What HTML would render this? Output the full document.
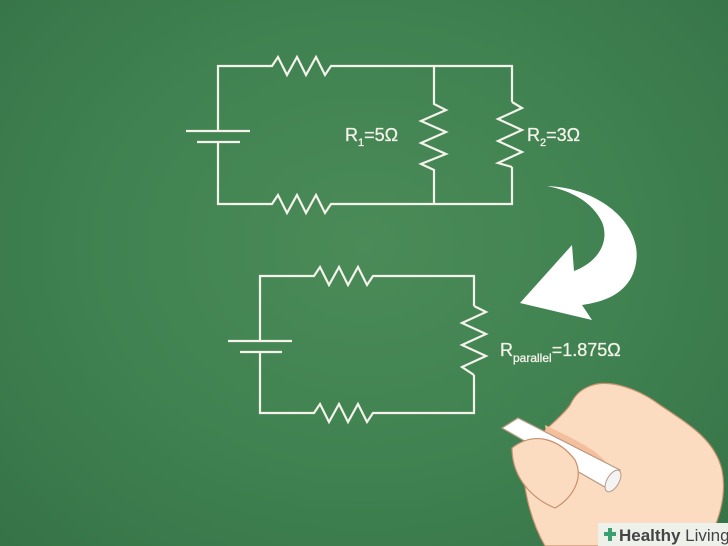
<!DOCTYPE html>
<html><head><style>
html,body{margin:0;padding:0}
body{width:728px;height:546px;overflow:hidden;background:radial-gradient(ellipse at 50% 45%,#4a8b58 0%,#3f8150 55%,#367347 100%);font-family:"Liberation Sans",sans-serif;position:relative}
svg{position:absolute;left:0;top:0}
</style></head><body>
<svg width="728" height="546" viewBox="0 0 728 546">
<g fill="none" stroke="#f4f2ea" stroke-width="2.2" stroke-linejoin="miter">
<polyline points="218,131 218,66 272,66 278,57 287,75 297,57 306,75 316,57 325,75 331,66 512,66 512,102"/>
<polyline points="218,142 218,204 272,204 278,195 287,213 297,195 306,213 316,195 325,213 331,204 512,204 512,167"/>
<polyline points="512,102 522,108 498,119 522,130 498,141 522,152 498,163 512,167"/>
<polyline points="434,66 434,104 446,110 421,121 446,132 421,143 446,154 421,164 434,170 434,204"/>
<line x1="186" y1="131" x2="250" y2="131"/>
<line x1="197" y1="142" x2="240" y2="142"/>
<polyline points="260,341 260,276 314,276 320,267 329,285 339,267 348,285 358,267 367,285 373,276 474,276 474,306"/>
<polyline points="260,352 260,413 314,413 320,404 329,422 339,404 348,422 358,404 367,422 373,413 474,413 474,375"/>
<polyline points="474,306 486,312 462,323 486,334 462,345 486,356 462,367 474,375"/>
<line x1="228" y1="341" x2="292" y2="341"/>
<line x1="240" y1="352" x2="282" y2="352"/>
</g>
<path d="M547,186 C605,188 652,232 632,276 C622,296 602,302 582,305 L592,320 L520,303 L572,245 L574,271 C598,262 610,242 602,222 C592,202 572,191 547,186 Z" fill="#fff"/>
<g fill="#f4f2ea" font-size="18" stroke="#f4f2ea" stroke-width="0.3">
<text x="345" y="141">R<tspan font-size="11" dy="5">1</tspan><tspan dy="-5">=5Ω</tspan></text>
<text x="527" y="141">R<tspan font-size="11" dy="5">2</tspan><tspan dy="-5">=3Ω</tspan></text>
<text x="500" y="356">R<tspan font-size="12" dy="6">parallel</tspan><tspan dy="-6">=1.875Ω</tspan></text>
</g>
<path d="M590,386 C610,378 640,390 660,405 C690,425 715,440 722,470 C728,500 715,530 705,546 L545,546 C530,520 520,480 525,455 C540,430 560,420 570,405 C575,395 580,390 590,386 Z" fill="#fbdcc0" stroke="#c9906c" stroke-width="1.2"/>
<path d="M545,425 C575,440 600,450 612,470 C600,475 570,470 550,460 Z" fill="#f3bf9c"/>
<path d="M502,428 L518,418 L620,470 L610,490 Z" fill="#fff" stroke="#b89a84" stroke-width="1.2"/>
<ellipse cx="613" cy="481" rx="6" ry="12" transform="rotate(30 613 481)" fill="#f3f3f3" stroke="#b89a84"/>
<path d="M512,448 C535,430 560,440 575,460 C585,480 570,500 555,508 C535,500 512,480 512,448 Z" fill="#fbdcc0" stroke="#c9906c" stroke-width="1.2"/>
<rect x="598" y="523" width="130" height="23" fill="#eef1ea"/>
<path d="M604,534 h12 M610,528 v13" stroke="#3aa070" stroke-width="4"/>
<text x="619" y="541" font-size="17" font-weight="bold" fill="#444">Healthy <tspan font-weight="normal">Living</tspan></text>
</svg>
</body></html>
